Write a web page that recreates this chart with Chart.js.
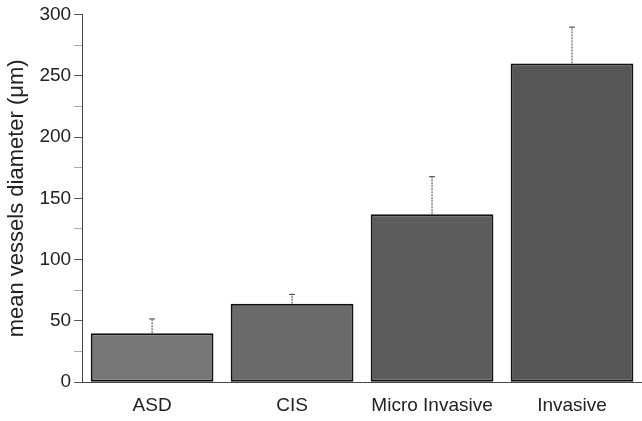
<!DOCTYPE html>
<html>
<head>
<meta charset="utf-8">
<script src="https://cdn.jsdelivr.net/npm/chart.js@4"></script>
<style>
  html, body { margin: 0; padding: 0; background: #fff; }
  #wrap { width: 642px; height: 421px; }
</style>
</head>
<body>
<div id="wrap"><canvas id="barChart"></canvas></div>
<script>
const categories = ["ASD", "CIS", "Micro Invasive", "Invasive"];
const meanDiameter = [40, 64, 137, 260];
const errorUp = [12, 8, 31, 30];
const barColors = ["#777777", "#6a6a6a", "#5c5c5c", "#565656"];

// draws the upward-only error bars (dotted stem + small cap)
const errorBars = {
  id: "errorBars",
  afterDatasetsDraw(chart) {
    const ctx = chart.ctx;
    const meta = chart.getDatasetMeta(0);
    const y = chart.scales.y;
    ctx.save();
    ctx.strokeStyle = "#444";
    ctx.lineWidth = 1;
    meta.data.forEach((bar, i) => {
      const top = y.getPixelForValue(meanDiameter[i] + errorUp[i]);
      ctx.setLineDash([2, 1]);
      ctx.beginPath();
      ctx.moveTo(bar.x, bar.y);
      ctx.lineTo(bar.x, top);
      ctx.stroke();
      ctx.setLineDash([]);
      ctx.beginPath();
      ctx.moveTo(bar.x - 3, top + 0.5);
      ctx.lineTo(bar.x + 3, top + 0.5);
      ctx.stroke();
    });
    ctx.restore();
  },
};

const font = "'Liberation Sans', Arial, sans-serif";

new Chart(document.getElementById("barChart"), {
  type: "bar",
  data: {
    labels: categories,
    datasets: [
      {
        data: meanDiameter,
        backgroundColor: barColors,
        borderColor: "#111",
        borderWidth: 2,
        borderSkipped: false,
        barPercentage: 0.877,
        categoryPercentage: 1,
      },
    ],
  },
  options: {
    responsive: true,
    maintainAspectRatio: false,
    animation: false,
    layout: { padding: { top: 6, right: -2, left: 4, bottom: 0 } },
    plugins: {
      legend: { display: false },
      tooltip: { enabled: false },
    },
    scales: {
      x: {
        grid: { display: false },
        border: { display: true, color: "#444", width: 1 },
        ticks: {
          color: "#222",
          padding: 4,
          font: { family: font, size: 19 },
        },
      },
      y: {
        min: 0,
        max: 300,
        grid: {
          drawOnChartArea: false,
          tickLength: 8,
          color: (c) => (c.tick && c.tick.value % 50 === 0 ? "#555" : "#aaa"),
        },
        border: { display: true, color: "#444", width: 1, dash: [2, 1] },
        ticks: {
          stepSize: 25,
          autoSkip: false,
          padding: 3,
          color: "#222",
          font: { family: font, size: 19 },
          callback: (v) => (v % 50 === 0 ? v : ""),
        },
        title: {
          display: true,
          text: "mean vessels diameter (μm)",
          color: "#222",
          padding: { top: 0, bottom: 6 },
          font: { family: font, size: 22 },
        },
      },
    },
  },
  plugins: [errorBars],
});
</script>
</body>
</html>
